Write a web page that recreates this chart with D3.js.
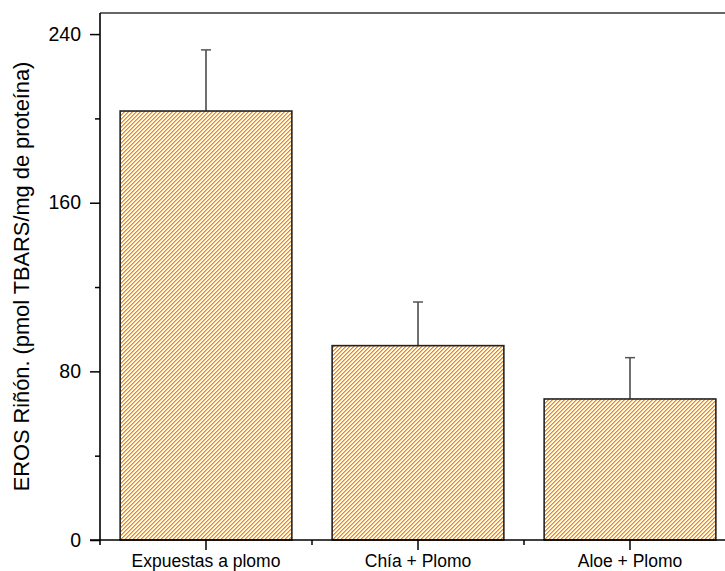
<!DOCTYPE html>
<html>
<head>
<meta charset="utf-8">
<script src="https://cdn.jsdelivr.net/npm/d3@7/dist/d3.min.js"></script>
<style>
  html, body { margin: 0; padding: 0; background: #fff; }
  svg { display: block; }
  text { font-family: "Liberation Sans", Arial, sans-serif; fill: #000; }
</style>
</head>
<body>
<svg id="chart" width="725" height="571"></svg>
<script>
// Lipid peroxidation in kidney per treatment group
const categories = ["Expuestas a plomo", "Chía + Plomo", "Aloe + Plomo"];
const means = [203.5, 92.2, 66.9];
const errors = [29.0, 20.7, 19.6];
const majorTicks = [0, 80, 160, 240];
const minorTicks = [40, 120, 200];
const yTitle = "EROS Riñón. (pmol TBARS/mg de proteína)";

const svg = d3.select("#chart");
const plotLeft = 100, plotTop = 13, plotBottom = 540, plotRight = 736;

const x = d3.scaleBand()
  .domain(categories)
  .range([plotLeft, plotRight])
  .paddingInner(0.19)
  .paddingOuter(0.095);

const y = d3.scaleLinear().domain([0, 250]).range([plotBottom, plotTop]);

// diagonal orange hatch ("/" direction) in a 4x4 tile:
// a solid pixel per row plus a softer neighbour for the line edge
const hatchRows = [0, 1, 2, 3];
const defs = svg.append("defs");
const pat = defs.append("pattern")
  .attr("id", "hatch")
  .attr("patternUnits", "userSpaceOnUse")
  .attr("width", 4).attr("height", 4);
pat.append("rect")
  .attr("width", 4).attr("height", 4)
  .attr("fill", "#ffffff");
pat.selectAll("rect.edge")
  .data(hatchRows)
  .join("rect")
  .attr("class", "edge")
  .attr("x", r => (4 - r) % 4).attr("y", r => r)
  .attr("width", 1).attr("height", 1)
  .attr("fill", "#ffb766")
  .attr("shape-rendering", "crispEdges");
pat.selectAll("rect.core")
  .data(hatchRows)
  .join("rect")
  .attr("class", "core")
  .attr("x", r => 3 - r).attr("y", r => r)
  .attr("width", 1).attr("height", 1)
  .attr("fill", "#ff8000")
  .attr("shape-rendering", "crispEdges");

// bars
svg.append("g").selectAll("rect")
  .data(categories)
  .join("rect")
  .attr("x", d => x(d))
  .attr("y", (d, i) => y(means[i]))
  .attr("width", x.bandwidth())
  .attr("height", (d, i) => y(0) - y(means[i]))
  .style("fill", "url(#hatch)")
  .attr("stroke", "#222")
  .attr("stroke-width", 1.6);

// upper error bars
const eb = svg.append("g");
categories.forEach((c, i) => {
  const cx = x(c) + x.bandwidth() / 2;
  eb.append("line")
    .attr("x1", cx).attr("x2", cx)
    .attr("y1", y(means[i])).attr("y2", y(means[i] + errors[i]))
    .attr("stroke", "#222").attr("stroke-width", 1.3);
  eb.append("line")
    .attr("x1", cx - 5).attr("x2", cx + 5)
    .attr("y1", y(means[i] + errors[i])).attr("y2", y(means[i] + errors[i]))
    .attr("stroke", "#555").attr("stroke-width", 1.5);
});

// top frame
svg.append("line")
  .attr("x1", plotLeft).attr("x2", plotRight)
  .attr("y1", y(250)).attr("y2", y(250))
  .attr("stroke", "#333").attr("stroke-width", 1.6);

// y axis
const yAxis = svg.append("g")
  .attr("transform", `translate(${plotLeft},0)`)
  .call(d3.axisLeft(y).tickValues(majorTicks).tickSize(10).tickPadding(9));
svg.append("g")
  .attr("transform", `translate(${plotLeft},0)`)
  .call(d3.axisLeft(y).tickValues(minorTicks).tickSize(5).tickFormat(""))
  .call(g => g.select(".domain").remove());
yAxis.select(".domain").attr("d", `M0,${y(250)}V${plotBottom + 5}`);
yAxis.selectAll("text").attr("font-size", 19.5).attr("font-family", "Liberation Sans, Arial, sans-serif");

// x axis
const xAxis = svg.append("g")
  .attr("transform", `translate(0,${plotBottom})`)
  .call(d3.axisBottom(x).tickSize(10).tickPadding(6));
xAxis.select(".domain").attr("d", `M${plotLeft - 10},0H${plotRight}`);
xAxis.selectAll("text")
  .attr("font-size", 17.5)
  .attr("font-family", "Liberation Sans, Arial, sans-serif")
  .attr("dy", null)
  .attr("y", 26.5);
// minor ticks at the category boundaries
const gap = (x.step() - x.bandwidth()) / 2;
svg.append("g")
  .attr("transform", `translate(0,${plotBottom})`)
  .selectAll("line")
  .data(categories.slice(1))
  .join("line")
  .attr("x1", d => x(d) - gap).attr("x2", d => x(d) - gap)
  .attr("y1", 0).attr("y2", 5)
  .attr("stroke", "#000").attr("stroke-width", 1.5);

svg.selectAll(".tick line").attr("stroke-width", 1.5);
svg.selectAll(".domain").attr("stroke-width", 1.6);

// y title
svg.append("text")
  .attr("transform", `translate(29,${(plotTop + plotBottom) / 2}) rotate(-90)`)
  .attr("text-anchor", "middle")
  .attr("font-size", 21.8)
  .text(yTitle);
</script>
</body>
</html>
